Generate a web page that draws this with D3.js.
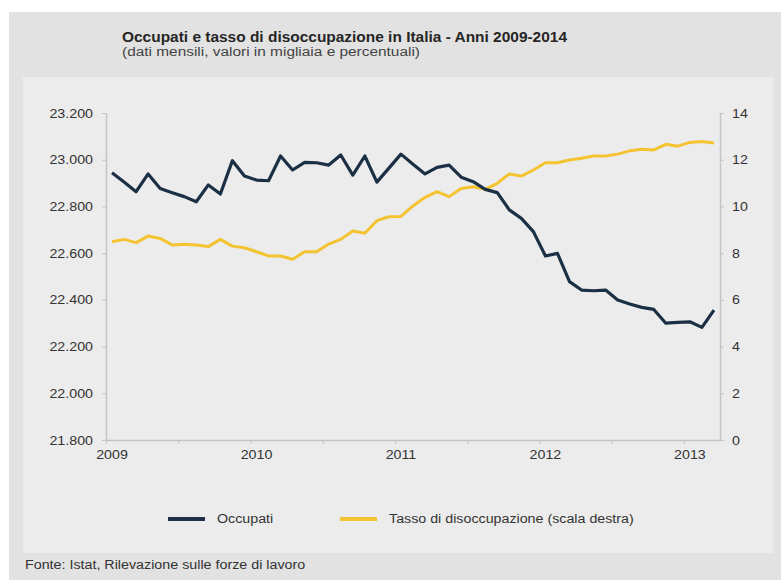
<!DOCTYPE html>
<html>
<head>
<meta charset="utf-8">
<script src="https://d3js.org/d3.v7.min.js"></script>
<style>
    body { margin: 0; background: #fff; }
    text { font-family: "Liberation Sans", Arial, sans-serif; }
</style>
</head>
<body>
<div id="cont"></div>
<script>
    // mesi gen 2009 - mar 2013
    var mesi = ["2009-01","2009-02","2009-03","2009-04","2009-05","2009-06","2009-07","2009-08","2009-09","2009-10","2009-11","2009-12",
                "2010-01","2010-02","2010-03","2010-04","2010-05","2010-06","2010-07","2010-08","2010-09","2010-10","2010-11","2010-12",
                "2011-01","2011-02","2011-03","2011-04","2011-05","2011-06","2011-07","2011-08","2011-09","2011-10","2011-11","2011-12",
                "2012-01","2012-02","2012-03","2012-04","2012-05","2012-06","2012-07","2012-08","2012-09","2012-10","2012-11","2012-12",
                "2013-01","2013-02","2013-03"];

    // occupati, migliaia
    var occupati = [22944, 22905, 22863, 22939, 22877, 22859, 22842, 22820, 22892, 22853, 22996, 22930,
                    22913, 22910, 23016, 22956, 22989, 22987, 22977, 23020, 22934, 23016, 22904, 22964,
                    23024, 22981, 22939, 22967, 22977, 22925, 22906, 22873, 22859, 22785, 22749, 22692,
                    22588, 22599, 22478, 22442, 22439, 22442, 22399, 22382, 22368, 22359, 22300, 22304,
                    22306, 22282, 22356];

    // tasso di disoccupazione, %
    var tasso = [8.49, 8.59, 8.45, 8.73, 8.63, 8.35, 8.38, 8.35, 8.28, 8.59, 8.30, 8.23,
                 8.06, 7.88, 7.88, 7.74, 8.06, 8.06, 8.39, 8.59, 8.95, 8.85, 9.39, 9.56,
                 9.57, 10.02, 10.39, 10.63, 10.42, 10.77, 10.84, 10.73, 10.99, 11.39, 11.30, 11.56,
                 11.87, 11.87, 11.99, 12.06, 12.16, 12.16, 12.24, 12.38, 12.45, 12.42, 12.66, 12.58,
                 12.74, 12.78, 12.72];

    var tickSx = [21800, 22000, 22200, 22400, 22600, 22800, 23000, 23200];
    var tickDx = [0, 2, 4, 6, 8, 10, 12, 14];
    var anni = ["2009-01", "2010-01", "2011-01", "2012-01", "2013-01"];

    var it = d3.formatLocale({decimal: ",", thousands: ".", grouping: [3], currency: ["", "€"]});

    // il testo dell'originale e' un po' allargato
    var stretch = function(sel, k) {
        sel.each(function() {
            var l = this.getComputedTextLength();
            d3.select(this).attr("textLength", l * k).attr("lengthAdjust", "spacingAndGlyphs");
        });
    };

    var svg = d3.select("#cont").append("svg")
        .attr("width", 781)
        .attr("height", 580);

    // sfondi
    svg.append("rect").attr("x", 9).attr("y", 12).attr("width", 772).attr("height", 568).attr("fill", "#e2e2e2");
    svg.append("rect").attr("x", 23).attr("y", 77).attr("width", 750).attr("height", 476).attr("fill", "#ececec");

    // titoli
    svg.append("text").attr("x", 122).attr("y", 42)
        .attr("font-size", 14).attr("font-weight", "bold").attr("fill", "#262626")
        .attr("textLength", 445).attr("lengthAdjust", "spacingAndGlyphs")
        .text("Occupati e tasso di disoccupazione in Italia - Anni 2009-2014");
    svg.append("text").attr("x", 122).attr("y", 56)
        .attr("font-size", 12.5).attr("fill", "#444")
        .attr("textLength", 298).attr("lengthAdjust", "spacingAndGlyphs")
        .text("(dati mensili, valori in migliaia e percentuali)");

    var x = d3.scaleBand().domain(mesi).range([106, 720]);
    var xi = d3.scaleLinear().domain([0, mesi.length]).range([106, 720]);
    var ySx = d3.scaleLinear().domain([21800, 23200]).range([440, 113]);
    var yDx = d3.scaleLinear().domain([0, 14]).range([440, 113]);
    var bw = x.bandwidth();

    var styleAxis = function(g) {
        g.selectAll(".domain").attr("stroke", "#c4c4c4").attr("stroke-width", 1.5);
        g.selectAll(".tick line").attr("stroke", "#c4c4c4");
        g.selectAll("text").attr("font-family", "Liberation Sans, Arial, sans-serif")
            .attr("font-size", 12.5).attr("fill", "#333")
            .call(stretch, 1.14);
    };

    svg.append("g").attr("transform", "translate(106,0)")
        .call(d3.axisLeft(ySx).tickValues(tickSx).tickFormat(it.format(",")).tickSizeInner(4).tickSizeOuter(0).tickPadding(9))
        .call(styleAxis);

    svg.append("g").attr("transform", "translate(720,0)")
        .call(d3.axisRight(yDx).tickValues(tickDx).tickSizeInner(4).tickSizeOuter(0).tickPadding(8))
        .call(styleAxis);

    // asse x: tacche ogni 6 mesi
    svg.append("g").attr("transform", "translate(0,440)")
        .call(d3.axisBottom(xi).tickValues([0, 6, 12, 18, 24, 30, 36, 42, 48]).tickFormat("").tickSizeInner(4).tickSizeOuter(0))
        .call(styleAxis);

    var xl = svg.append("g").attr("transform", "translate(0,440)")
        .call(d3.axisBottom(x).tickValues(anni).tickFormat(function(d) { return d.slice(0, 4); }).tickSize(0).tickPadding(10))
        .call(styleAxis);
    xl.select(".domain").remove();

    var lineSx = d3.line()
        .x(function(d, i) { return x(mesi[i]) + bw / 2; })
        .y(function(d) { return ySx(d); });
    var lineDx = d3.line()
        .x(function(d, i) { return x(mesi[i]) + bw / 2; })
        .y(function(d) { return yDx(d); });

    svg.append("path").datum(tasso)
        .attr("d", lineDx)
        .attr("fill", "none")
        .attr("stroke", "#f4c331")
        .attr("stroke-width", 3)
        .attr("stroke-linejoin", "round");

    svg.append("path").datum(occupati)
        .attr("d", lineSx)
        .attr("fill", "none")
        .attr("stroke", "#1b2f45")
        .attr("stroke-width", 3.2)
        .attr("stroke-linejoin", "round");

    // legenda
    var leg = [
        {name: "Occupati", color: "#1b2f45", x: 168},
        {name: "Tasso di disoccupazione (scala destra)", color: "#f4c331", x: 340}
    ];
    var lg = svg.selectAll(".leg").data(leg).enter().append("g").attr("class", "leg");
    lg.append("line")
        .attr("x1", function(d) { return d.x; })
        .attr("x2", function(d) { return d.x + 37; })
        .attr("y1", 519).attr("y2", 519)
        .attr("stroke", function(d) { return d.color; })
        .attr("stroke-width", 4);
    lg.append("text")
        .attr("x", function(d) { return d.x + 49; })
        .attr("y", 523)
        .attr("font-size", 12.5).attr("fill", "#333")
        .text(function(d) { return d.name; })
        .call(stretch, 1.14);

    svg.append("text").attr("x", 25).attr("y", 569)
        .attr("font-size", 12).attr("fill", "#333")
        .text("Fonte: Istat, Rilevazione sulle forze di lavoro")
        .call(stretch, 1.19);
</script>
</body>
</html>
